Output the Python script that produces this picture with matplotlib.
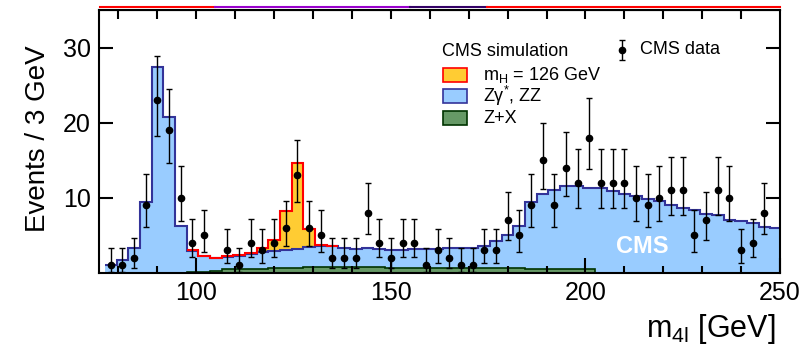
import math

import matplotlib
matplotlib.use("Agg")
import matplotlib.pyplot as plt
import numpy as np
from matplotlib.lines import Line2D
from matplotlib.patches import Rectangle
from matplotlib.ticker import MultipleLocator

plt.rcParams["font.family"] = ["Liberation Sans", "DejaVu Sans"]
plt.rcParams["mathtext.default"] = "regular"

# 3 GeV bins, centres 78 ... 249
bin_edges = np.arange(76.5, 251.0, 3.0)

# observed events per bin
data_counts = np.array([
    1, 1, 2, 9, 23, 19, 10, 4, 5, 0,
    3, 1, 4, 3, 4, 6, 13, 6, 5, 2,
    2, 2, 8, 4, 2, 4, 4, 1, 3, 2,
    1, 1, 3, 3, 7, 5, 9, 15, 9, 14,
    12, 18, 12, 12, 12, 10, 9, 10, 11, 11,
    5, 7, 11, 10, 3, 4, 8, 0,
])

# Z+X reducible background
zx = np.array([
    0.0, 0.0, 0.0, 0.0, 0.0, 0.0, 0.05, 0.1, 0.15, 0.2,
    0.5, 0.5, 0.5, 0.5, 0.6, 0.65, 0.7, 0.75, 0.8, 0.8,
    0.8, 0.8, 0.8, 0.8, 0.65, 0.65, 0.65, 0.6, 0.6, 0.6,
    0.6, 0.6, 0.6, 0.6, 0.6, 0.6, 0.5, 0.5, 0.5, 0.5,
    0.5, 0.5, 0.05, 0.05, 0.05, 0.05, 0.05, 0.05, 0.05, 0.05,
    0.05, 0.05, 0.05, 0.05, 0.05, 0.05, 0.05, 0.05,
])

# Z gamma*, ZZ irreducible background
zz = np.array([
    1.0, 1.7, 3.3, 9.4, 27.4, 20.8, 6.25, 2.8, 2.05, 1.8,
    1.6, 1.75, 2.05, 2.25, 2.35, 2.45, 2.5, 2.65, 2.75, 2.75,
    2.5, 2.4, 2.5, 2.4, 2.4, 2.4, 2.5, 2.55, 2.6, 2.7,
    2.7, 2.75, 3.0, 3.6, 4.5, 5.7, 8.9, 10.0, 10.6, 11.1,
    11.1, 10.8, 11.25, 10.85, 10.45, 10.25, 9.85, 9.55, 9.05, 8.65,
    8.35, 7.85, 7.65, 7.05, 6.85, 6.65, 6.05, 5.95,
])

# m_H = 126 GeV signal
higgs = np.array([
    0, 0, 0, 0, 0, 0, 0, 0.2, 0.1, 0.05,
    0.1, 0.1, 0.15, 0.55, 1.4, 5.1, 11.4, 2.5, 0.15, 0.05,
] + [0] * 38)


def poisson_cdf(k, mu):
    return sum(math.exp(-mu + i * math.log(mu) - math.lgamma(i + 1)) for i in range(k + 1))


def solve(f, lo, hi):
    for _ in range(80):
        mid = 0.5 * (lo + hi)
        if f(mid) > 0:
            hi = mid
        else:
            lo = mid
    return 0.5 * (lo + hi)


def garwood(n, tail=0.15866):
    """68% central Poisson interval for an observed count n."""
    lo = 0.0 if n == 0 else solve(lambda mu: (1 - poisson_cdf(n - 1, mu)) - tail, 1e-9, n)
    hi = solve(lambda mu: tail - poisson_cdf(n, mu), n, n + 10 * math.sqrt(n + 1) + 10)
    return lo, hi


centres = 0.5 * (bin_edges[:-1] + bin_edges[1:])
zx_top = zx
zz_top = zx + zz
h_top = zz_top + higgs

fig = plt.figure(figsize=(8.04, 3.5), dpi=100)
ax = fig.add_axes([99 / 804, 1 - 273 / 350, 681 / 804, 263 / 350])

# stacked histograms
ax.stairs(zx_top, bin_edges, baseline=0, fill=True, color="#669966", zorder=1)
ax.stairs(zx_top, bin_edges, baseline=None, color="#003300", lw=1.2, zorder=1.1)
ax.stairs(zz_top, bin_edges, baseline=zx_top, fill=True, color="#99ccff", zorder=1)
ax.stairs(zz_top, bin_edges, baseline=None, color="#333399", lw=1.5, zorder=2)
sig = slice(7, 20)
sig_edges = bin_edges[7:21]
ax.stairs(h_top[sig], sig_edges, baseline=zz_top[sig], fill=True, color="#ffcc33", zorder=1)
ax.stairs(h_top[sig], sig_edges, baseline=None, color="#ff0000", lw=1.5, zorder=2.1)

# data points with Poisson error bars
obs = data_counts > 0
intervals = np.array([garwood(int(n)) for n in data_counts[obs]])
yerr = np.vstack([data_counts[obs] - intervals[:, 0], intervals[:, 1] - data_counts[obs]])
ax.errorbar(centres[obs], data_counts[obs], yerr=yerr, fmt="o", color="black",
            ms=4.5, elinewidth=1, capsize=2.5, capthick=1, zorder=5)

ax.set_xlim(75, 250)
ax.set_ylim(0, 35)

for s in ax.spines.values():
    s.set_linewidth(1.5)
ax.set_xticks([100, 150, 200, 250])
ax.xaxis.set_minor_locator(MultipleLocator(10))
ax.tick_params(axis="x", which="major", direction="in", length=10.5, width=1.5,
               top=False, labelsize=18, pad=6)
ax.tick_params(axis="x", which="minor", direction="in", length=5, width=1.5, top=False)
ax.set_yticks([10, 20, 30])
ax.tick_params(axis="y", direction="in", length=10, width=1.5, right=True,
               labelsize=18, pad=6)
top = ax.secondary_xaxis("top")
top.set_xticks(np.arange(80, 250, 10))
top.tick_params(direction="in", length=6.5, width=1.5, labeltop=False)

ax.set_ylabel("Events / 3 GeV", fontsize=20)
ax.yaxis.set_label_coords(-0.0705, 0.51)
ax.set_xlabel(r"m$_{4l}$ [GeV]", fontsize=22, ha="right")
ax.xaxis.set_label_coords(0.994, -0.148)

# legend
ax.text(0.5037, 0.844, "CMS simulation", transform=ax.transAxes, fontsize=13, va="center")
entries = [
    ("#ffcc33", "#ff0000", r"m$_{H}$ = 126 GeV", 0.7281),
    ("#99ccff", "#333399", r"Z$\gamma^{*}$, ZZ", 0.6464),
    ("#669966", "#003300", "Z+X", 0.5627),
]
for face, edge, label, y0 in entries:
    ax.add_patch(Rectangle((0.5051, y0), 0.0352, 0.0532, transform=ax.transAxes,
                           facecolor=face, edgecolor=edge, lw=1.2, clip_on=False))
    ax.text(0.5639, y0 + 0.0266, label, transform=ax.transAxes, fontsize=13, va="center")

ax.errorbar([0.768], [0.848], yerr=[[0.038], [0.038]], fmt="o", color="black", ms=4.5,
            elinewidth=1, capsize=2.5, capthick=1, transform=ax.transAxes, clip_on=False)
ax.text(0.7944, 0.848, "CMS data", transform=ax.transAxes, fontsize=13, va="center")

ax.text(0.798, 0.10, "CMS", transform=ax.transAxes, ha="center", va="center",
        color="white", fontsize=17, fontweight="bold", zorder=6)

# coloured strip along the top edge
for x0, x1, c in [(100, 215, "#ff0000"), (215, 410, "#9900cc"),
                  (410, 487, "#330066"), (487, 780, "#ff0000")]:
    fig.add_artist(Line2D([x0 / 804, x1 / 804], [0.98, 0.98], color=c, lw=1.5))

fig.savefig("out.png", dpi=100)
